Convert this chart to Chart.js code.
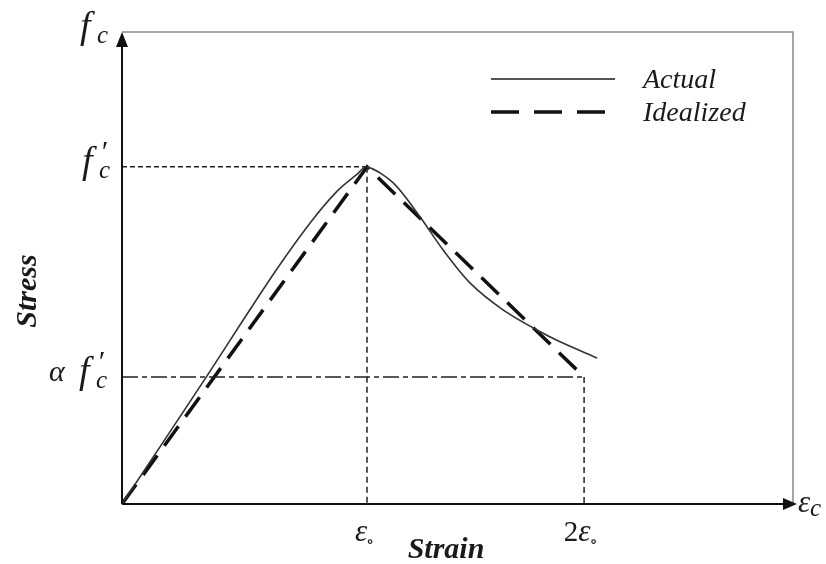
<!DOCTYPE html>
<html>
<head>
<meta charset="utf-8">
<script src="https://cdn.jsdelivr.net/npm/chart.js@4.4.1/dist/chart.umd.min.js"></script>
<style>
  html, body { margin: 0; padding: 0; background: #fff; }
  #wrap { width: 826px; height: 564px; position: relative; }
</style>
</head>
<body>
<div id="wrap"><canvas id="chart" width="826" height="564"></canvas></div>
<script>
// strain in units of eps_o, stress in units of f'c
const strainActual = [0, 0.086, 0.224, 0.347, 0.494, 0.633, 0.767, 0.878, 0.959, 1.0, 1.106, 1.216, 1.310, 1.420, 1.555, 1.694, 1.788, 1.939];
const stressActual = [0, 0.094, 0.245, 0.380, 0.545, 0.698, 0.833, 0.928, 0.978, 1.0, 0.953, 0.852, 0.754, 0.656, 0.576, 0.516, 0.481, 0.433];
const strainIdeal = [0, 1.0, 1.886];
const stressIdeal = [0, 1.0, 0.377];
const alpha = 0.377;
const eps0 = 1.0;
const eps2 = 1.886;
const xMax = 2.755;
const yMax = 1.40;

const pts = (xs, ys) => xs.map((x, i) => ({ x: x, y: ys[i] }));

const SERIF = '"Liberation Serif", "DejaVu Serif", serif';

// axes, frame, math labels and legend
const decorations = {
  id: 'decorations',
  afterDatasetsDraw(chart) {
    const ctx = chart.ctx;
    const xs = chart.scales.x, ys = chart.scales.y;
    const x0 = xs.getPixelForValue(0), y0 = ys.getPixelForValue(0);
    const xEnd = xs.getPixelForValue(xMax), yTop = ys.getPixelForValue(yMax);
    ctx.save();

    // frame (top + right)
    ctx.strokeStyle = '#8a8a8a';
    ctx.lineWidth = 1.5;
    ctx.beginPath();
    ctx.moveTo(x0, yTop);
    ctx.lineTo(xEnd - 4, yTop);
    ctx.lineTo(xEnd - 4, y0);
    ctx.stroke();

    // axes
    ctx.strokeStyle = '#111';
    ctx.fillStyle = '#111';
    ctx.lineWidth = 2;
    ctx.beginPath();
    ctx.moveTo(x0, y0);
    ctx.lineTo(x0, yTop + 10);
    ctx.moveTo(x0, y0);
    ctx.lineTo(xEnd - 10, y0);
    ctx.stroke();
    // arrow heads
    ctx.beginPath();
    ctx.moveTo(x0, yTop);
    ctx.lineTo(x0 - 6, yTop + 15);
    ctx.lineTo(x0 + 6, yTop + 15);
    ctx.closePath();
    ctx.fill();
    ctx.beginPath();
    ctx.moveTo(xEnd, y0);
    ctx.lineTo(xEnd - 14, y0 - 6);
    ctx.lineTo(xEnd - 14, y0 + 6);
    ctx.closePath();
    ctx.fill();

    // math labels: f with subscript c (and prime)
    ctx.fillStyle = '#1a1a1a';
    ctx.textBaseline = 'alphabetic';
    ctx.textAlign = 'left';
    function fc(xl, base, prime) {
      ctx.font = 'italic 38px ' + SERIF;
      ctx.fillText('f', xl, base);
      ctx.font = 'italic 25px ' + SERIF;
      ctx.fillText('c', xl + 17, base + 5);
      if (prime) {
        ctx.font = 'italic 30px ' + SERIF;
        ctx.fillText('\u2032', xl + 18, base - 12);
      }
    }
    fc(80, 38, false);
    const yf = ys.getPixelForValue(1);
    fc(82, yf + 6, true);
    const ya = ys.getPixelForValue(alpha);
    fc(79, ya + 6, true);
    ctx.font = 'italic 30px ' + SERIF;
    ctx.fillText('\u03b1', 49, ya + 4);

    // strain ticks
    function eps(xc, base, prefix, sub) {
      let w = 0;
      if (prefix) { ctx.font = '29px ' + SERIF; w = ctx.measureText(prefix).width; }
      ctx.font = 'italic 31px ' + SERIF;
      const we = ctx.measureText('\u03b5').width;
      const ws = sub === 'c' ? 10 : 8;
      let x = xc - (w + we + ws) / 2;
      ctx.textAlign = 'left';
      if (prefix) { ctx.font = '29px ' + SERIF; ctx.fillText(prefix, x, base); x += w; }
      ctx.font = 'italic 31px ' + SERIF;
      ctx.fillText('\u03b5', x, base);
      x += we;
      if (sub === 'c') { ctx.font = 'italic 25px ' + SERIF; ctx.fillText('c', x, base + 4); }
      else { ctx.font = '17px ' + SERIF; ctx.fillText('\u2218', x - 1, base + 6); }
    }
    eps(xs.getPixelForValue(eps0) - 2, y0 + 37, '', 'o');
    eps(xs.getPixelForValue(eps2) - 3, y0 + 37, '2', 'o');
    eps(xEnd + 12, y0 + 8, '', 'c');

    // axis titles
    ctx.font = 'bold italic 30px ' + SERIF;
    ctx.textAlign = 'center';
    ctx.fillText('Strain', 446, 558);
    ctx.save();
    ctx.translate(36, 291);
    ctx.rotate(-Math.PI / 2);
    ctx.fillText('Stress', 0, 0);
    ctx.restore();

    // legend
    ctx.strokeStyle = '#555';
    ctx.lineWidth = 2;
    ctx.beginPath();
    ctx.moveTo(491, 79);
    ctx.lineTo(615, 79);
    ctx.stroke();
    ctx.strokeStyle = '#111';
    ctx.lineWidth = 3.5;
    ctx.setLineDash([28, 15]);
    ctx.beginPath();
    ctx.moveTo(491, 112);
    ctx.lineTo(608, 112);
    ctx.stroke();
    ctx.setLineDash([]);
    ctx.font = 'italic 28px ' + SERIF;
    ctx.textAlign = 'left';
    ctx.fillStyle = '#1a1a1a';
    ctx.fillText('Actual', 643, 88);
    ctx.fillText('Idealized', 643, 121);

    ctx.restore();
  }
};

new Chart(document.getElementById('chart'), {
  type: 'scatter',
  data: {
    datasets: [
      {
        label: 'fc guide h',
        data: pts([0, eps0], [1, 1]),
        showLine: true, borderColor: '#222', borderWidth: 1.5, borderDash: [5, 3],
        pointRadius: 0, fill: false
      },
      {
        label: 'fc guide v',
        data: pts([eps0, eps0], [1, 0]),
        showLine: true, borderColor: '#222', borderWidth: 1.5, borderDash: [6, 4],
        pointRadius: 0, fill: false
      },
      {
        label: 'alpha guide h',
        data: pts([0, eps2], [alpha, alpha]),
        showLine: true, borderColor: '#222', borderWidth: 1.5, borderDash: [16, 4, 5, 4],
        pointRadius: 0, fill: false
      },
      {
        label: 'alpha guide v',
        data: pts([eps2, eps2], [alpha, 0]),
        showLine: true, borderColor: '#222', borderWidth: 1.5, borderDash: [6, 4],
        pointRadius: 0, fill: false
      },
      {
        label: 'Actual',
        data: pts(strainActual, stressActual),
        showLine: true, borderColor: '#333', borderWidth: 1.6,
        tension: 0.3,
        pointRadius: 0, fill: false
      },
      {
        label: 'Idealized',
        data: pts(strainIdeal, stressIdeal),
        showLine: true, borderColor: '#111', borderWidth: 3.5, borderDash: [24, 12],
        pointRadius: 0, fill: false
      }
    ]
  },
  options: {
    responsive: false,
    animation: false,
    devicePixelRatio: 1,
    layout: { padding: { left: 122, right: 29, top: 32, bottom: 60 } },
    scales: {
      x: { type: 'linear', min: 0, max: xMax, display: false },
      y: { type: 'linear', min: 0, max: yMax, display: false }
    },
    plugins: {
      legend: { display: false },
      tooltip: { enabled: false }
    }
  },
  plugins: [decorations]
});
</script>
</body>
</html>
